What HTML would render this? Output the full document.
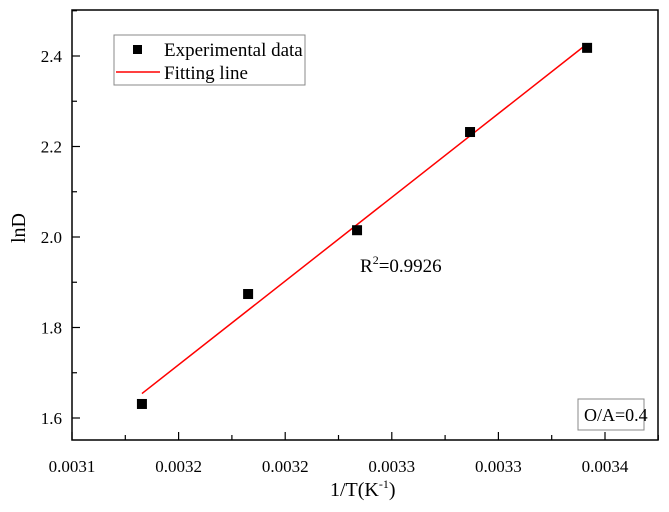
<!DOCTYPE html>
<html><head><meta charset="utf-8"><style>
body{margin:0;background:#fff}
svg{display:block;font-family:"Liberation Serif",serif}
</style></head><body>
<svg id="c" width="669" height="512"></svg>
<script>
const xVals=[0.0031328,0.0031826,0.0032337,0.0032867,0.0033416];
const yVals=[1.631,1.874,2.015,2.232,2.418];
const xTicks=[0.00310,0.00315,0.00320,0.00325,0.00330,0.00335];
const xTickLabels=["0.0031","0.0032","0.0032","0.0033","0.0033","0.0034"];
const yTicks=[1.6,1.8,2.0,2.2,2.4];
const yTickLabels=["1.6","1.8","2.0","2.2","2.4"];
const L=72,R=658,T=10,B=440;
const X=v=>L+(v-0.0031)/0.00005*106.6;
const Y=v=>418-(v-1.6)/0.2*90.5;
const s=document.getElementById('c');const NS='http://www.w3.org/2000/svg';
function mk(t,a,p){const e=document.createElementNS(NS,t);for(const k in a)e.setAttribute(k,a[k]);(p||s).appendChild(e);return e;}
let e=mk('rect',{x:L,y:T,width:R-L,height:B-T,fill:'none',stroke:'#000','stroke-width':1.5});

xTicks.forEach((v,i)=>{const x=X(v);
 e=mk('line',{x1:x,x2:x,y1:B,y2:B-8,stroke:'#000','stroke-width':1.2});
 
 const xm=X(v+0.000025);
 e=mk('line',{x1:xm,x2:xm,y1:B,y2:B-5,stroke:'#000','stroke-width':1.2});
 
 e=mk('text',{x:x,y:B+32,'text-anchor':'middle','font-size':17});e.textContent=xTickLabels[i];
 });
yTicks.forEach((v,i)=>{const y=Y(v);
 e=mk('line',{x1:L,x2:L+8,y1:y,y2:y,stroke:'#000','stroke-width':1.2});
 
 const ym=Y(v+0.1);
 e=mk('line',{x1:L,x2:L+5,y1:ym,y2:ym,stroke:'#000','stroke-width':1.2});
 
 e=mk('text',{x:L-10,y:y+6,'text-anchor':'end','font-size':17});e.textContent=yTickLabels[i];
 });
const n=xVals.length;const mx=xVals.reduce((a,b)=>a+b)/n,my=yVals.reduce((a,b)=>a+b)/n;
let sxy=0,sxx=0;for(let i=0;i<n;i++){sxy+=(xVals[i]-mx)*(yVals[i]-my);sxx+=(xVals[i]-mx)**2;}
const m=sxy/sxx,b0=my-m*mx;
const x0=xVals[0],x1=xVals[n-1];
e=mk('line',{x1:X(x0),y1:Y(m*x0+b0),x2:X(x1),y2:Y(m*x1+b0),stroke:'#ff0000','stroke-width':1.5});

xVals.forEach((v,i)=>{e=mk('rect',{x:X(v)-5,y:Y(yVals[i])-5,width:10,height:10,fill:'#000'});
 });
</script>
<svg width="669" height="512" style="position:absolute;left:0;top:0">
<g>
<rect x="114" y="35" width="191" height="50" fill="#fff" stroke="#888" stroke-width="1"/>
<rect x="133" y="45" width="9" height="9" fill="#000"/>
<text x="164" y="56" font-size="19">Experimental data</text>
<line x1="116" x2="160" y1="72" y2="72" stroke="#ff0000" stroke-width="1.5"/>
<text x="164" y="79" font-size="19">Fitting line</text>
</g>
<text x="360" y="272" font-size="19">R<tspan font-size="12" dy="-8">2</tspan><tspan dy="8">=0.9926</tspan></text>
<rect x="578" y="399" width="66" height="31" fill="#fff" stroke="#888"/>
<text x="584" y="421" font-size="18">O/A=0.4</text>
<text x="330" y="496" font-size="20">1/T(K<tspan font-size="12" dy="-8">-1</tspan><tspan dy="8">)</tspan></text>
<text transform="translate(25,228) rotate(-90)" font-size="20" text-anchor="middle">lnD</text>
</svg>
</body></html>
